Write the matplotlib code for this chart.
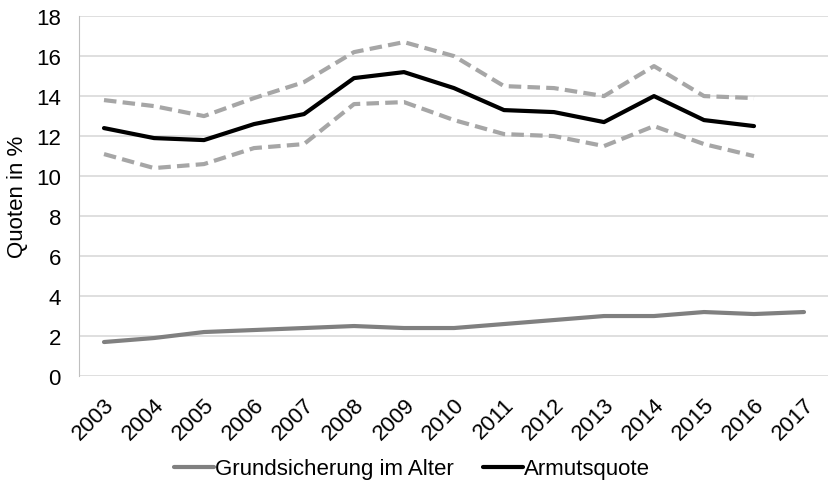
import matplotlib.pyplot as plt
import numpy as np

plt.rcParams['font.family'] = ['Liberation Sans', 'DejaVu Sans']

years = [str(y) for y in range(2003, 2018)]
grundsicherung = [1.7, 1.9, 2.2, 2.3, 2.4, 2.5, 2.4, 2.4, 2.6, 2.8, 3.0, 3.0, 3.2, 3.1, 3.2]
armutsquote = [12.4, 11.9, 11.8, 12.6, 13.1, 14.9, 15.2, 14.4, 13.3, 13.2, 12.7, 14.0, 12.8, 12.5]
upper = [13.8, 13.5, 13.0, 13.9, 14.7, 16.2, 16.7, 16.0, 14.5, 14.4, 14.0, 15.5, 14.0, 13.9]
lower = [11.1, 10.4, 10.6, 11.4, 11.6, 13.6, 13.7, 12.8, 12.1, 12.0, 11.5, 12.5, 11.6, 11.0]

fig = plt.figure(figsize=(8.29, 4.89), dpi=100)
ax = fig.add_axes([0.0953, 0.229, 0.9047, 0.736])

x = np.arange(len(years))
xa = x[:len(armutsquote)]

ax.plot(x, grundsicherung, color='#808080', lw=3, label='Grundsicherung im Alter',
        solid_capstyle='round')
ax.plot(xa, upper, color='#a6a6a6', lw=3, dashes=(3.0, 1.5))
ax.plot(xa, lower, color='#a6a6a6', lw=3, dashes=(3.0, 1.5))
ax.plot(xa, armutsquote, color='black', lw=3, label='Armutsquote',
        solid_capstyle='round')

ax.set_xlim(-0.5, len(years) - 0.5)
ax.set_ylim(0, 18)
ax.set_yticks(range(0, 19, 2))
ax.set_xticks(x)
ax.set_xticklabels(years, rotation=45, ha='right', rotation_mode='anchor')
ax.tick_params(axis='both', length=0, labelsize=16, colors='black')
ax.tick_params(axis='x', pad=13)
ax.tick_params(axis='y', pad=13)

ax.grid(axis='y', color='#d9d9d9', lw=1.2)
ax.set_axisbelow(True)
for s in ['top', 'right', 'bottom']:
    ax.spines[s].set_visible(False)
ax.spines['left'].set_color('#bfbfbf')

ax.set_ylabel('Quoten in %', fontsize=16)
ax.yaxis.set_label_coords(-0.068, 0.5)

fig.legend(loc='center', bbox_to_anchor=(0.497, 1 - 470 / 489), ncol=2, frameon=False,
           fontsize=16, handlelength=1.8, handletextpad=0.05, columnspacing=1.3)

fig.savefig('out.png', dpi=100)
